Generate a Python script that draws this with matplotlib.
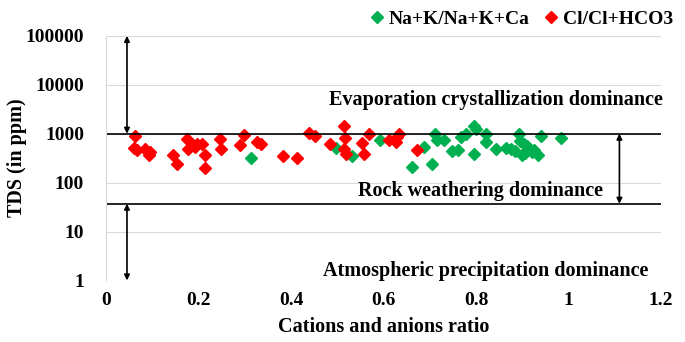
import matplotlib.pyplot as plt

plt.rcParams['font.family'] = ['Liberation Serif', 'DejaVu Serif']
plt.rcParams['font.weight'] = 'bold'

# Cl/Cl+HCO3 (red)
cl_x = [0.063, 0.061, 0.066, 0.085, 0.095, 0.092, 0.144, 0.153, 0.175, 0.186,
        0.193, 0.178, 0.196, 0.207, 0.214, 0.214, 0.247, 0.249, 0.297, 0.290,
        0.326, 0.334, 0.382, 0.413, 0.438, 0.451, 0.514, 0.516, 0.485, 0.514,
        0.518, 0.557, 0.554, 0.568, 0.611, 0.626, 0.633, 0.630, 0.673]
cl_y = [885, 506, 454, 492, 420, 372, 372, 244, 784, 621,
        530, 492, 621, 621, 359, 200, 784, 492, 945, 593,
        691, 621, 348, 323, 1038, 885, 1418, 807, 621, 492,
        389, 389, 660, 991, 740, 691, 991, 870, 454]

# Na+K/Na+K+Ca (green)
na_x = [0.314, 0.497, 0.532, 0.593, 0.662, 0.687, 0.705, 0.711, 0.716, 0.731,
        0.749, 0.760, 0.796, 0.767, 0.778, 0.796, 0.800, 0.821, 0.821, 0.843,
        0.875, 0.893, 0.904, 0.915, 0.922, 0.933, 0.900, 0.940, 0.983, 0.865,
        0.885, 0.895, 0.910, 0.925, 0.905]
na_y = [323, 506, 348, 740, 208, 530, 244, 991, 740, 740,
        433, 454, 389, 845, 991, 1418, 1250, 991, 670, 492,
        492, 991, 621, 492, 430, 372, 359, 885, 807, 520,
        440, 700, 560, 470, 400]

upper_tds = 1000
lower_tds = 37

fig = plt.figure(figsize=(6.85, 3.42), dpi=100)
ax = fig.add_axes([0.155, 0.18, 0.81, 0.715])

ax.plot(na_x, na_y, 'D', color='#00B050', markersize=6.5, linestyle='none',
        label='Na+K/Na+K+Ca')
ax.plot(cl_x, cl_y, 'D', color='#FF0000', markersize=6.5, linestyle='none',
        label='Cl/Cl+HCO3')

ax.set_yscale('log')
ax.set_xlim(0, 1.2)
ax.set_ylim(1, 100000)
ax.set_yticks([1, 10, 100, 1000, 10000, 100000])
ax.set_yticklabels(['1', '10', '100', '1000', '10000', '100000'])
ax.set_xticks([0, 0.2, 0.4, 0.6, 0.8, 1.0, 1.2])
ax.set_xticklabels(['0', '0.2', '0.4', '0.6', '0.8', '1', '1.2'])
ax.minorticks_off()
ax.tick_params(length=0, labelsize=14)
ax.tick_params(axis='y', pad=16)
ax.tick_params(axis='x', pad=8)
ax.grid(axis='y', color='#d9d9d9', linewidth=0.8)
ax.set_axisbelow(True)
for s in ['top', 'right', 'bottom']:
    ax.spines[s].set_visible(False)
ax.spines['left'].set_color('#d9d9d9')

ax.axhline(upper_tds, color='black', linewidth=1.2)
ax.axhline(lower_tds, color='black', linewidth=1.2)

arr = dict(arrowstyle='<|-|>', color='black', lw=1.2, mutation_scale=8,
           shrinkA=0, shrinkB=0)
ax.annotate('', xy=(0.045, 100000), xytext=(0.045, upper_tds), arrowprops=arr)
ax.annotate('', xy=(0.045, 1), xytext=(0.045, lower_tds), arrowprops=arr)
ax.annotate('', xy=(1.11, upper_tds), xytext=(1.11, lower_tds), arrowprops=arr)

ax.text(0.843, 4900, 'Evaporation crystallization dominance', ha='center',
        va='center', fontsize=14.5, fontweight='bold')
ax.text(0.81, 66, 'Rock weathering dominance', ha='center', va='center',
        fontsize=14.5, fontweight='bold')
ax.text(0.82, 1.55, 'Atmospheric precipitation dominance', ha='center',
        va='center', fontsize=14.5, fontweight='bold')

ax.set_xlabel('Cations and anions ratio', fontsize=14.5, fontweight='bold',
              labelpad=6)
ax.set_ylabel('TDS (in ppm)', fontsize=14.5, fontweight='bold')
ax.yaxis.set_label_coords(-0.143, 0.5)

ax.legend(loc='lower right', bbox_to_anchor=(1.035, 1.0), ncol=2, frameon=False,
          fontsize=14, handletextpad=0.0, columnspacing=0.5, markerscale=0.9,
          borderaxespad=0.0, handlelength=1.2)

fig.savefig('out.png', dpi=100)
